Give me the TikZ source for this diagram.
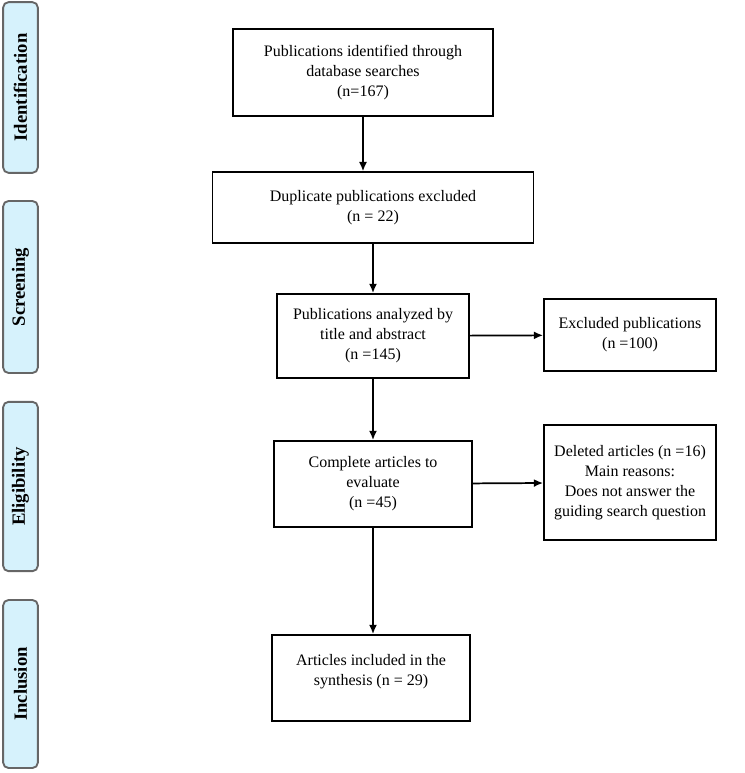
\documentclass[tikz,border=0pt]{standalone}
\usepackage{fontspec}
\setmainfont{Liberation Serif}
\usetikzlibrary{positioning,arrows.meta}

\tikzset{
  box/.style={draw, line width=1.3pt, align=center, inner sep=2pt,
    font=\fontsize{12}{15}\selectfont},
  phase/.style={draw=black!60, line width=1.4pt, fill=cyan!16!white, rounded corners=4pt,
    rotate=90, minimum height=26pt, font=\bfseries\fontsize{14}{16}\selectfont},
  flow/.style={-{Latex[length=7pt,width=6pt]}, line width=1.3pt}
}

\begin{document}
\begin{tikzpicture}[x=0.75pt,y=-0.75pt]
    \useasboundingbox (0,0) rectangle (744,773);

    % phases on the left
    \node[phase, minimum width=128pt] (ident) at (20.5,87.5)  {Identification};
    \node[phase, minimum width=129pt] (scree) at (20.5,287)   {Screening};
    \node[phase, minimum width=127pt] (elig)  at (20.5,486.5) {Eligibility};
    \node[phase, minimum width=126pt] (incl)  at (20.5,684)   {Inclusion};

    % main column
    \node[box, minimum width=195pt,   minimum height=65pt] (found) at (363,72.5)
        {Publications identified through\\database searches\\(n=167)};
    \node[box, minimum width=240.75pt, minimum height=53pt] (dupl) at (373,207.5)
        {Duplicate publications excluded\\(n = 22)};
    \node[box, minimum width=144pt,   minimum height=63pt] (title) at (373,336)
        {Publications analyzed by\\title and abstract\\(n =145)};
    \node[box, minimum width=149pt,   minimum height=64.5pt] (full) at (373,484)
        {Complete articles to\\evaluate\\(n =45)};
    \node[box, minimum width=148.5pt, minimum height=64.5pt, text depth=12pt] (incl29) at (371,678)
        {Articles included in the\\synthesis (n = 29)};

    % right column
    \node[box, minimum width=129pt, minimum height=54pt] (excl) at (630,335)
        {Excluded publications\\(n =100)};
    \node[box, minimum width=129pt, minimum height=86pt] (del) at (630,482.5)
        {Deleted articles (n =16)\\Main reasons:\\Does not answer the\\guiding search question};

    \draw[flow] (found) -- (found |- dupl.north);
    \path[flow]
    (dupl)  edge (title)
    (title) edge (full)
            edge (excl)
    (full)  edge (full |- incl29.north)
            edge (del);
\end{tikzpicture}
\end{document}
